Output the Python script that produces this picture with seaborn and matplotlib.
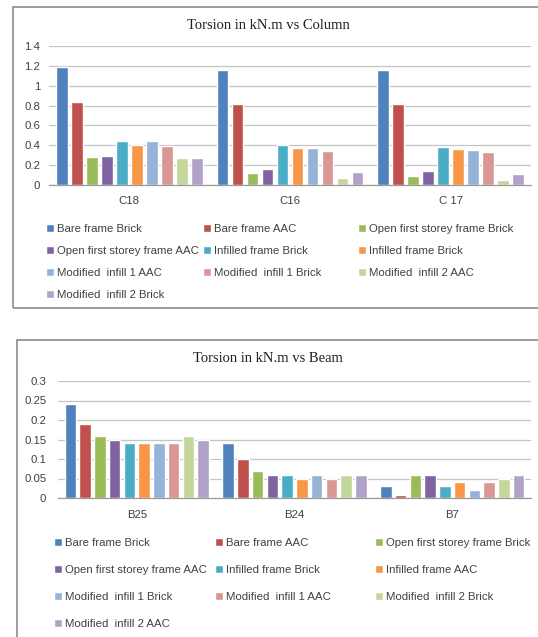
import numpy as np
import pandas as pd
import matplotlib
matplotlib.use("Agg")
import matplotlib.pyplot as plt
from matplotlib.patches import Rectangle
import seaborn as sns

# ---------------- data ----------------
col_members = ["C18", "C16", "C 17"]
col_labels = ["Bare frame Brick", "Bare frame AAC", "Open first storey frame Brick",
              "Open first storey frame AAC", "Infilled frame Brick", "Infilled frame Brick",
              "Modified  infill 1 AAC", "Modified  infill 1 Brick", "Modified  infill 2 AAC",
              "Modified  infill 2 Brick"]
col_c18 = [1.19, 0.84, 0.28, 0.29, 0.44, 0.40, 0.44, 0.39, 0.27, 0.27]
col_c16 = [1.16, 0.82, 0.12, 0.16, 0.40, 0.37, 0.37, 0.34, 0.07, 0.13]
col_c17 = [1.16, 0.82, 0.09, 0.14, 0.38, 0.36, 0.35, 0.33, 0.05, 0.11]

beam_members = ["B25", "B24", "B7"]
beam_labels = ["Bare frame Brick", "Bare frame AAC", "Open first storey frame Brick",
               "Open first storey frame AAC", "Infilled frame Brick", "Infilled frame AAC",
               "Modified  infill 1 Brick", "Modified  infill 1 AAC", "Modified  infill 2 Brick",
               "Modified  infill 2 AAC"]
beam_b25 = [0.24, 0.19, 0.16, 0.15, 0.14, 0.14, 0.14, 0.14, 0.16, 0.15]
beam_b24 = [0.14, 0.10, 0.07, 0.06, 0.06, 0.05, 0.06, 0.05, 0.06, 0.06]
beam_b7 = [0.03, 0.007, 0.06, 0.06, 0.03, 0.04, 0.02, 0.04, 0.05, 0.06]

colors = ["#4F81BD", "#C0504D", "#9BBB59", "#8064A2", "#4BACC6", "#F79646",
          "#95B3D7", "#D99694", "#C3D69B", "#B3A2C7"]

W, H = 538, 637
TXT = "#404040"
SANS = ["Liberation Sans", "DejaVu Sans"]
SERIF = ["Liberation Serif", "DejaVu Serif"]
FS = 8.2


def long_df(members, rows):
    recs = []
    for m, vals in zip(members, rows):
        for i, v in enumerate(vals):
            recs.append({"member": m, "series": f"s{i}", "value": v})
    return pd.DataFrame(recs)


def ax_rect(l, r, t, b):
    return [l / W, 1 - b / H, (r - l) / W, (b - t) / H]


sns.set_theme(style="white")
plt.rcParams["font.family"] = SANS

fig = plt.figure(figsize=(W / 100, H / 100), dpi=100)
fig.patch.set_facecolor("white")

# frames around each chart
fig.patches.append(Rectangle((12.5 / W, 1 - 308 / H), 600 / W, 301 / H, transform=fig.transFigure,
                             fill=False, edgecolor="#8c8c8c", lw=1.2))
fig.patches.append(Rectangle((17 / W, 1 - 660 / H), 600 / W, 320 / H, transform=fig.transFigure,
                             fill=False, edgecolor="#8c8c8c", lw=1.2))


def draw(ax, members, rows, labels, ymax, ystep, title, title_y, ypad, xpad,
         leg_x, leg_top, leg_gap):
    df = long_df(members, rows)
    order = [f"s{i}" for i in range(len(labels))]
    sns.barplot(data=df, x="member", y="value", hue="series", hue_order=order,
                palette=colors, width=0.935, gap=0.22, saturation=1, ax=ax, errorbar=None)
    handles, _ = ax.get_legend_handles_labels()
    ax.get_legend().remove()
    ax.set_ylim(0, ymax)
    ax.set_xlim(-0.5, len(members) - 0.5)
    ticks = np.round(np.arange(0, ymax + ystep / 2, ystep), 3)
    ax.set_yticks(ticks)
    ax.set_yticklabels([f"{t:g}" for t in ticks], color=TXT, fontsize=FS)
    ax.set_xlabel("")
    ax.set_ylabel("")
    ax.tick_params(axis="x", length=0, pad=xpad, labelsize=FS, labelcolor=TXT)
    ax.tick_params(axis="y", length=0, pad=ypad, labelsize=FS)
    ax.yaxis.grid(True, color="#c4c4c4", lw=0.9)
    ax.set_axisbelow(True)
    for s in ["top", "right", "left"]:
        ax.spines[s].set_visible(False)
    ax.spines["bottom"].set_color("#9a9a9a")
    ax.spines["bottom"].set_linewidth(0.9)
    fig.text(268 / W, 1 - title_y / H, title, ha="center", va="center",
             fontsize=10.5, family=SERIF, color="#202020")
    # legend laid out row-wise in three columns like the original
    for c in range(3):
        idx = list(range(c, len(labels), 3))
        fig.legend([handles[i] for i in idx], [labels[i] for i in idx],
                   loc="upper left", bbox_to_anchor=(leg_x[c] / W, 1 - leg_top / H),
                   frameon=False, fontsize=FS, handlelength=0.66, handleheight=0.66,
                   handletextpad=0.3, labelspacing=leg_gap, borderpad=0, borderaxespad=0,
                   labelcolor=TXT)


ax1 = fig.add_axes(ax_rect(49, 531, 46, 185))
draw(ax1, col_members, [col_c18, col_c16, col_c17], col_labels, 1.4, 0.2,
     "Torsion in kN.m vs Column", 25.5, 6.5, 8, [46, 203, 358], 224, 1.05)

ax2 = fig.add_axes(ax_rect(58, 531, 381, 498))
draw(ax2, beam_members, [beam_b25, beam_b24, beam_b7], beam_labels, 0.3, 0.05,
     "Torsion in kN.m vs Beam", 358, 8.5, 9, [54, 215, 375], 538, 1.49)

fig.savefig("out.png", dpi=100)
